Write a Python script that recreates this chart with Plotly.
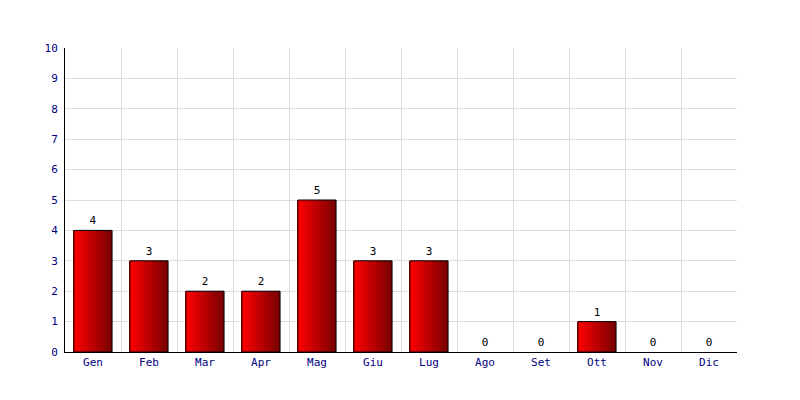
import plotly.graph_objects as go

months = ["Gen", "Feb", "Mar", "Apr", "Mag", "Giu", "Lug", "Ago", "Set", "Ott", "Nov", "Dic"]
values = [4, 3, 2, 2, 5, 3, 3, 0, 0, 1, 0, 0]
y_ticks = list(range(0, 11))

bar_width = 0.68
n_strips = 24
c0 = (255, 0, 0)
c1 = (122, 0, 0)

fig = go.Figure()
sw = bar_width / n_strips
for i in range(n_strips):
    t = i / (n_strips - 1)
    col = "rgb(%d,%d,%d)" % tuple(round(a + (b - a) * t) for a, b in zip(c0, c1))
    fig.add_trace(go.Bar(
        x=months, y=values, width=sw * 1.05, offset=-bar_width / 2 + i * sw,
        marker=dict(color=col, line=dict(width=0)), hoverinfo="skip", showlegend=False,
    ))

fig.add_trace(go.Bar(
    x=months, y=values, width=bar_width, offset=-bar_width / 2,
    marker=dict(color="rgba(0,0,0,0)",
                line=dict(color="black", width=[1 if v > 0 else 0 for v in values])),
    text=[str(v) for v in values], textposition="outside", cliponaxis=False,
    textfont=dict(family="DejaVu Sans Mono", size=11, color="black"),
    showlegend=False,
))

fig.update_layout(
    width=800, height=400, barmode="overlay",
    margin=dict(l=57, r=71, t=40, b=56),
    paper_bgcolor="white", plot_bgcolor="white",
    font=dict(family="DejaVu Sans Mono", size=11, color="#000080"),
)
fig.update_xaxes(
    type="category", tickson="boundaries", showgrid=True, gridcolor="#dcdcdc", gridwidth=1,
    showline=True, linecolor="black", linewidth=1, ticks="", zeroline=False,
    tickfont=dict(color="#000080", size=11),
)
fig.update_yaxes(
    range=[0, 10], tickvals=y_ticks, showgrid=True, gridcolor="#dcdcdc", gridwidth=1,
    showline=True, linecolor="black", linewidth=1, ticks="", zeroline=False,
    tickfont=dict(color="#000080", size=11), ticklabelstandoff=4,
)

fig.write_html("out.html")
